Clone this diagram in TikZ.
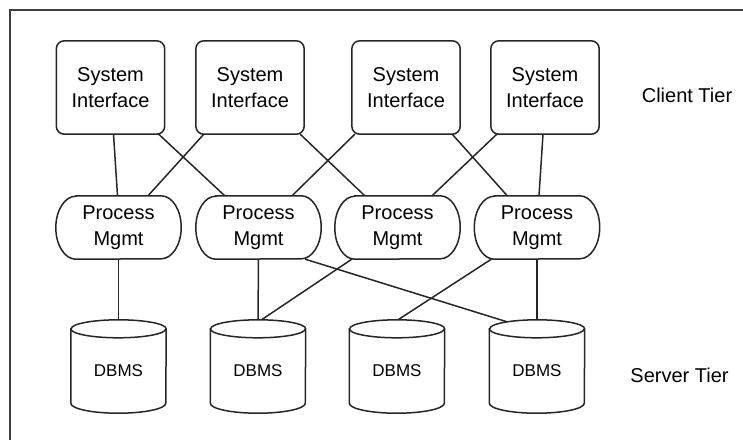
\documentclass[tikz,border=0pt]{standalone}
\usepackage{fontspec}
\setmainfont{Liberation Sans}
\usetikzlibrary{calc,backgrounds}
\begin{document}
\begin{tikzpicture}[x=1pt,y=1pt,
  txt/.style={inner sep=0pt, align=center, font=\fontsize{20}{26}\selectfont},
  sibox/.style={txt, minimum width=108, minimum height=93},
  pmbox/.style={txt, minimum width=125, minimum height=63},
  dbbox/.style={inner sep=0pt, minimum width=95, minimum height=93,
    text height=20.5, text depth=0, font=\fontsize{17}{20}\selectfont},
  outline/.style={draw=black!85, line width=1.5pt, fill=white},
  conn/.style={draw=black!85, line width=1.5pt},
  frame/.style={draw=black!75, line width=2.2pt}]

\useasboundingbox (0,0) rectangle (743,-440);

% outer frame (runs off the right and bottom edges)
\draw[frame] (743,-10) -- (10,-10) -- (10,-440);

% client tier
\node[sibox] (si1) at (110.5,-87.5) {System\\Interface};
\node[sibox] (si2) at (250,-87.5)   {System\\Interface};
\node[sibox] (si3) at (406,-87.5)   {System\\Interface};
\node[sibox] (si4) at (545,-87.5)   {System\\Interface};

% process management layer
\node[pmbox] (pm1) at (118.5,-227.5) {Process\\Mgmt};
\node[pmbox] (pm2) at (258.5,-227.5) {Process\\Mgmt};
\node[pmbox] (pm3) at (397.5,-227.5) {Process\\Mgmt};
\node[pmbox] (pm4) at (537,-227.5)   {Process\\Mgmt};

% server tier
\node[dbbox] (db1) at (118.5,-366.5) {DBMS};
\node[dbbox] (db2) at (258,-366.5)   {DBMS};
\node[dbbox] (db3) at (397,-366.5)   {DBMS};
\node[dbbox] (db4) at (537,-366.5)   {DBMS};

% tier captions
\node[txt] (client) at (687,-95)    {Client Tier};
\node[txt] (server) at (679.5,-375) {Server Tier};

\begin{pgfonlayer}{background}
  % interface -> process links
  \draw[conn] ($(si1.south)+(3,0)$)        -- ($(pm1.north)+(-1,0)$);
  \draw[conn] ($(si1.south east)+(-6,0)$)  -- ($(pm2.north west)+(29,0)$);
  \draw[conn] ($(si2.south west)+(8,0)$)   -- ($(pm1.north)+(29.5,0)$);
  \draw[conn] ($(si2.south east)+(-4,0)$)  -- ($(pm3.north west)+(30,0)$);
  \draw[conn] ($(si3.south west)+(3,0)$)   -- ($(pm2.north)+(33.5,0)$);
  \draw[conn] ($(si3.south east)+(-8,0)$)  -- ($(pm4.north west)+(33,0)$);
  \draw[conn] ($(si4.south west)+(6,0)$)   -- ($(pm3.north)+(34.5,0)$);
  \draw[conn] ($(si4.south)+(-2,0)$)       -- ($(pm4.north)+(2,0)$);

  % process -> database links
  \draw[conn] (pm1.south) -- (db1.north);
  \draw[conn] (pm2.south) -- (db2.north);
  \draw[conn] ($(pm2.south east)+(-16,0)$) -- ($(db4.north)+(-30,-2)$);
  \draw[conn] ($(pm3.south west)+(17,0)$)  -- ($(db2.north)+(2,-1)$);
  \draw[conn] ($(pm4.south west)+(17,0)$)  -- ($(db3.north)+(1,0)$);
  \draw[conn] (pm4.south) -- (db4.north);

  % interface boxes
  \foreach \n in {si1,si2,si3,si4}
    \draw[outline, rounded corners=8] (\n.north west) rectangle (\n.south east);

  % process boxes with elliptical ends
  \foreach \n in {pm1,pm2,pm3,pm4}
    \path[outline] ($(\n.north west)+(20,0)$) -- ($(\n.north east)+(-20,0)$)
      arc[start angle=90, end angle=-90, x radius=20, y radius=31.5]
      -- ($(\n.south west)+(20,0)$)
      arc[start angle=270, end angle=90, x radius=20, y radius=31.5] -- cycle;

  % database cylinders
  \foreach \n in {db1,db2,db3,db4} {
    \path[outline] ($(\n.north west)+(0,-9)$) -- ($(\n.south west)+(0,10)$)
      arc[start angle=180, end angle=360, x radius=47.5, y radius=10]
      -- ($(\n.north east)+(0,-9)$)
      arc[start angle=0, end angle=180, x radius=47.5, y radius=9] -- cycle;
    \draw[conn] ($(\n.north west)+(0,-9)$)
      arc[start angle=180, end angle=360, x radius=47.5, y radius=9];
  }
\end{pgfonlayer}
\end{tikzpicture}
\end{document}
